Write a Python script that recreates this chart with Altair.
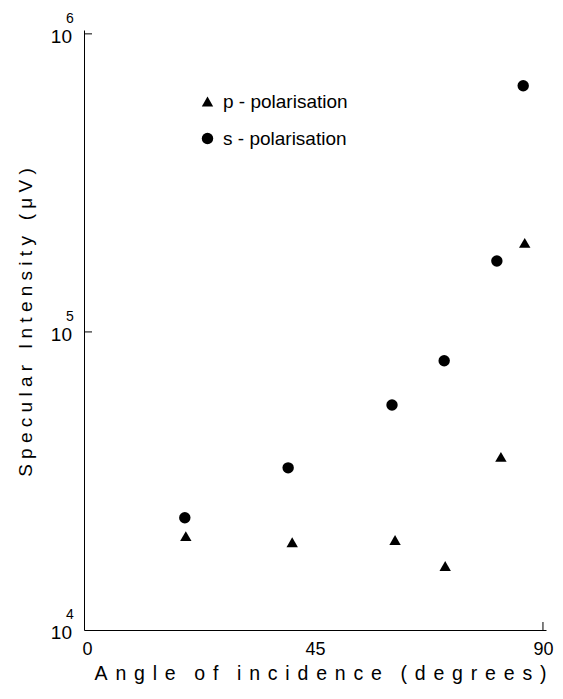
import altair as alt
import pandas as pd

# ---- data ----
angle_p = [19.5, 40.5, 60.8, 70.7, 81.7, 86.4]
intensity_p = [20650, 19700, 20050, 16400, 38100, 199000]
angle_s = [19.3, 39.7, 60.2, 70.5, 80.9, 86.1]
intensity_s = [23800, 35000, 56900, 80000, 173000, 670000]
series = ["p - polarisation", "s - polarisation"]
x_ticks = [0, 45, 90]
y_ticks = [1e4, 1e5, 1e6]
y_exponents = ["4", "5", "6"]

FONT = "Liberation Sans"


def spaced(s, sep, word_sep):
    words = s.split(" ")
    return word_sep.join(sep.join(list(w)) for w in words)


df = pd.DataFrame({
    "angle": angle_p + angle_s,
    "intensity": intensity_p + intensity_s,
    "series": [series[0]] * len(angle_p) + [series[1]] * len(angle_s),
})
df_lab = pd.DataFrame({"intensity": y_ticks, "base": ["10"] * 3, "exp": y_exponents})
df_ytick = pd.DataFrame({"intensity": y_ticks[1:]})
df_xtick = pd.DataFrame({"angle": [x_ticks[-1]]})

x_scale = alt.Scale(domain=[-0.6, 90.6], nice=False, zero=False)
y_scale = alt.Scale(type="log", domain=[1e4, 10 ** 6.013], nice=False)

x_title = spaced("Angle of incidence (degrees)", "\u2009\u2009", "\u2009\u00a0\u00a0\u2009")
y_title = spaced("Specular Intensity (\u03bcV)", "\u00a0", "\u00a0\u00a0\u00a0")

points = alt.Chart(df).mark_point(filled=True, opacity=1, color="black", size=130).encode(
    x=alt.X("angle:Q", scale=x_scale,
            axis=alt.Axis(values=x_ticks, ticks=False, grid=False, domainColor="black",
                          labelFont=FONT, labelFontSize=18, labelColor="black", labelPadding=10,
                          title=x_title, titleFont=FONT, titleFontSize=19.5, titleFontWeight="normal",
                          titleColor="black", titlePadding=6, titleX=236, titleAlign="center")),
    y=alt.Y("intensity:Q", scale=y_scale,
            axis=alt.Axis(labels=False, ticks=False, grid=False, domainColor="black",
                          title=y_title, titleFont=FONT, titleFontSize=19, titleFontWeight="normal",
                          titleColor="black", titleX=-59, titleY=292, titleAngle=-90,
                          titleAlign="center", titleBaseline="middle")),
    shape=alt.Shape("series:N", scale=alt.Scale(domain=series, range=["triangle-up", "circle"]),
                    legend=alt.Legend(title=None, orient="none", legendX=114, legendY=62,
                                      labelFont=FONT, labelFontSize=19, labelColor="black",
                                      symbolFillColor="black", symbolStrokeColor="black",
                                      symbolSize=130, rowPadding=17,
                                      labelOffset=6, padding=0)),
)

yticks = alt.Chart(df_ytick).mark_rule(color="black", strokeWidth=1).encode(
    y=alt.Y("intensity:Q", scale=y_scale), x=alt.value(0), x2=alt.value(8))

xtick = alt.Chart(df_xtick).mark_rule(color="black", strokeWidth=1).encode(
    x=alt.X("angle:Q", scale=x_scale), y=alt.value(592), y2=alt.value(600))

base_lab = alt.Chart(df_lab).mark_text(font=FONT, fontSize=19, align="right", baseline="middle",
                                       dy=3, color="black").encode(
    y=alt.Y("intensity:Q", scale=y_scale), x=alt.value(-12), text="base:N")

exp_lab = alt.Chart(df_lab).mark_text(font=FONT, fontSize=14, align="center", baseline="middle",
                                      dy=-15, color="black").encode(
    y=alt.Y("intensity:Q", scale=y_scale), x=alt.value(-14), text="exp:N")

chart = alt.layer(points, yticks, xtick, base_lab, exp_lab).properties(
    width=462, height=600,
    background="white",
    autosize=alt.AutoSizeParams(type="none"),
    padding={"left": 76, "top": 22, "right": 9, "bottom": 60},
).configure_view(strokeWidth=0, stroke="transparent")

chart.save("out.html", embed_options={"renderer": "svg", "actions": False})
